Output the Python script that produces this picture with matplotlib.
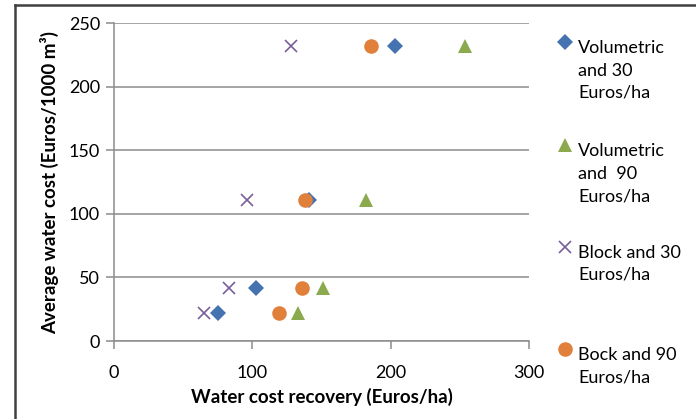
import matplotlib.pyplot as plt
from matplotlib.lines import Line2D

plt.rcParams["font.family"] = ["Lato", "DejaVu Sans"]

# Water cost recovery (Euros/ha) vs average water cost (Euros/1000 m3)
vol30_x = [203, 141, 103, 75]
vol30_y = [232, 111, 42, 22]
vol90_x = [254, 182, 151, 133]
vol90_y = [232, 111, 42, 22]
block30_x = [128, 96, 83, 65]
block30_y = [232, 111, 42, 22]
block90_x = [186, 138, 136, 119]
block90_y = [232, 111, 42, 22]

labels = [
    "Volumetric\nand 30\nEuros/ha",
    "Volumetric\nand  90\nEuros/ha",
    "Block and 30\nEuros/ha",
    "Bock and 90\nEuros/ha",
]
colors = ["#4572B0", "#8BAA4E", "#7A5E9A", "#E0803A"]
markers = ["D", "^", "x", "o"]
sizes = [8.5, 10.5, 9, 10.5]

W, H = 696, 419
fig = plt.figure(figsize=(W / 100, H / 100), dpi=100)
ax = fig.add_axes([114 / W, 1 - 341 / H, (529 - 114) / W, (341 - 23) / H])

series = [(vol30_x, vol30_y), (vol90_x, vol90_y), (block30_x, block30_y), (block90_x, block90_y)]
for (xs, ys), c, m, s in zip(series, colors, markers, sizes):
    ax.plot(xs, ys, linestyle="none", marker=m, markersize=s, color=c,
            markeredgewidth=1.2 if m == "x" else 0, clip_on=False)

ax.set_xlim(0, 300)
ax.set_ylim(0, 250)
ax.set_xticks([0, 100, 200, 300])
ax.set_yticks([0, 50, 100, 150, 200, 250])
ax.grid(axis="y", color="#8c8c8c", linewidth=1.1)
ax.set_axisbelow(True)
for side in ("top", "right"):
    ax.spines[side].set_visible(False)
for side in ("left", "bottom"):
    ax.spines[side].set_color("#8c8c8c")
    ax.spines[side].set_linewidth(1.1)
ax.tick_params(colors="#8c8c8c", labelcolor="black", labelsize=13, length=6, width=1.1)
ax.tick_params(axis="x", pad=11)
ax.tick_params(axis="y", pad=4)

ax.set_xlabel("Water cost recovery (Euros/ha)", fontsize=13.5, fontweight="bold", labelpad=5)
ax.set_ylabel("Average water cost (Euros/1000 m³)", fontsize=13.5, fontweight="bold", labelpad=7)

# legend drawn by hand so markers sit on the first text line
marker_y = [42, 145, 247, 349]
last_baseline = [98, 201, 280, 382]
for lab, c, m, s, my, bl in zip(labels, colors, markers, sizes, marker_y, last_baseline):
    fig.add_artist(Line2D([565 / W], [1 - my / H], transform=fig.transFigure,
                          marker=m, markersize=s, color=c, linestyle="none",
                          markeredgewidth=1.2 if m == "x" else 0))
    fig.text(578 / W, 1 - bl / H, lab, fontsize=13, va="baseline",
             ha="left", linespacing=1.5)

# outer frame edges
fig.add_artist(Line2D([15 / W, 1], [1 - 5 / H, 1 - 5 / H], transform=fig.transFigure,
                      color="#404040", linewidth=1.8))
fig.add_artist(Line2D([15 / W, 15 / W], [0, 1 - 5 / H], transform=fig.transFigure,
                      color="#404040", linewidth=1.8))

fig.savefig("out.png", dpi=100)
